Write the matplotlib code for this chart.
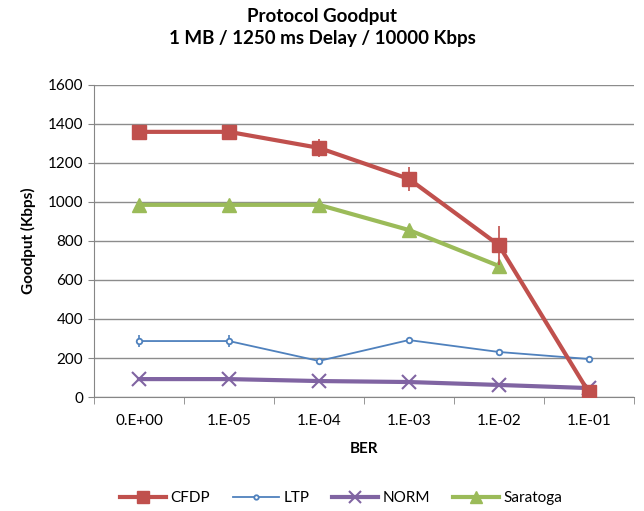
import matplotlib.pyplot as plt
import numpy as np

plt.rcParams['font.family'] = ['Lato', 'DejaVu Sans']

# BER categories
ber = ["0.E+00", "1.E-05", "1.E-04", "1.E-03", "1.E-02", "1.E-01"]

# goodput (Kbps)
cfdp = [1359, 1359, 1277, 1118, 779, 25]
cfdp_err = [0, 0, 45, 60, 100, 0]
ltp = [287, 287, 185, 292, 231, 195]
ltp_err = [30, 30, 0, 12, 12, 0]
norm = [92, 92, 82, 77, 62, 46]
saratoga = [985, 985, 985, 856, 672, np.nan]

x = np.arange(len(ber))

fig = plt.figure(figsize=(6.44, 5.11), dpi=100)
ax = fig.add_axes([0.146, 0.223, 0.838, 0.611])

h1 = ax.errorbar(x, cfdp, yerr=cfdp_err, color='#c0504d', lw=3, marker='s', ms=10,
                 elinewidth=1.2, capsize=0, label='CFDP', zorder=4)
h2 = ax.errorbar(x, ltp, yerr=ltp_err, color='#4f81bd', lw=1.3, marker='o', ms=4,
                 mfc='white', mew=1.3, elinewidth=1.2, capsize=0, label='LTP', zorder=3)
h3, = ax.plot(x, norm, color='#8064a2', lw=3, marker='x', ms=10, mew=1.5,
              label='NORM', zorder=3)
h4, = ax.plot(x, saratoga, color='#9bbb59', lw=3, marker='^', ms=10,
              label='Saratoga', zorder=3)

ax.set_xlim(-0.5, len(ber) - 0.5)
ax.set_ylim(0, 1600)
ax.set_yticks(range(0, 1601, 200))
ax.set_xticks(x)
ax.set_xticklabels(ber, fontsize=11)
ax.set_xticks(np.arange(-0.5, len(ber), 1), minor=True)
ax.tick_params(axis='x', which='major', length=0, pad=12)
ax.tick_params(axis='x', which='minor', length=5, color='#868686')
ax.tick_params(axis='y', length=4, color='#868686', labelsize=11, pad=4)

ax.yaxis.grid(True, color='#8c8c8c', lw=1)
ax.set_axisbelow(True)
for s in ['top', 'right']:
    ax.spines[s].set_visible(False)
for s in ['left', 'bottom']:
    ax.spines[s].set_color('#868686')

ax.set_xlabel('BER', fontsize=11, fontweight='bold', labelpad=10)
ax.set_ylabel('Goodput (Kbps)', fontsize=11, fontweight='bold', labelpad=8)
fig.suptitle('Protocol Goodput\n1 MB / 1250 ms Delay / 10000 Kbps',
             fontsize=13.5, fontweight='bold', y=0.985, linespacing=1.35)

# legend without the error bar stems
fig.legend([h1[0], h2[0], h3, h4], ['CFDP', 'LTP', 'NORM', 'Saratoga'],
           loc='center', bbox_to_anchor=(0.53, 0.025), ncol=4, frameon=False,
           fontsize=11, handlelength=3, columnspacing=1.5, handletextpad=0.3,
           markerscale=0.8)

fig.savefig('out.png', dpi=100)
